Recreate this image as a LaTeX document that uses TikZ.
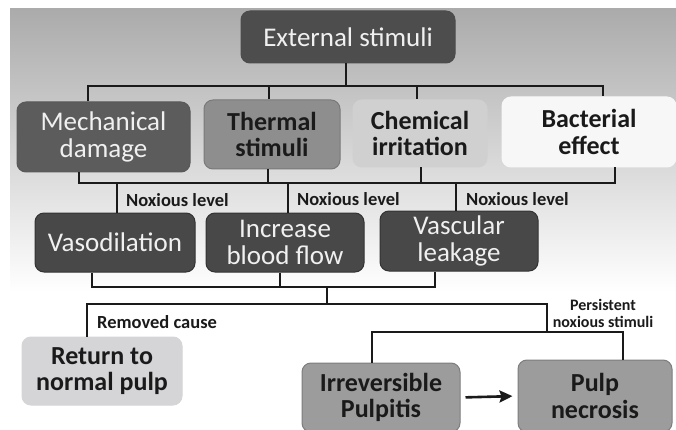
\documentclass[tikz,border=0pt]{standalone}
\usepackage{fontspec}
\setmainfont{Carlito}
\usetikzlibrary{arrows.meta}
\definecolor{bgtop}{HTML}{ABABAB}
\definecolor{bgmid}{HTML}{C4C4C4}
\definecolor{cExt}{HTML}{4D4D4D}
\definecolor{cMech}{HTML}{5C5C5C}
\definecolor{cTherm}{HTML}{8E8E8E}
\definecolor{cChem}{HTML}{D0D0D0}
\definecolor{cBact}{HTML}{F7F7F7}
\definecolor{cDark}{HTML}{484848}
\definecolor{cRet}{HTML}{D5D5D7}
\definecolor{cPul}{HTML}{9C9C9C}
\definecolor{cInk}{HTML}{1A1A1A}
\begin{document}
\begin{tikzpicture}[x=1pt,y=-1pt,
  box/.style={rounded corners=9pt, inner sep=0pt, align=center,
    font=\fontsize{27}{26.5}\selectfont, line width=1pt},
  darkbox/.style={box, text=white!94!black},
  lightbox/.style={box, text=cInk, font=\bfseries\fontsize{26}{26.5}\selectfont},
  lbl/.style={font=\bfseries\fontsize{18.5}{19}\selectfont, text=cInk, inner sep=0pt},
  wire/.style={line width=2pt, cInk}]
\useasboundingbox (0,0) rectangle (676,430);
\fill[white] (0,0) rectangle (676,430);
\shade[top color=bgtop, middle color=bgmid, bottom color=white] (10,9) rectangle (676,292);

% top
\node[darkbox, fill=cExt, draw=black!70, minimum width=214, minimum height=52] (ext) at (348,37) {External stimuli};
% first row
\node[darkbox, fill=cMech, draw=black!65, minimum width=173, minimum height=70] (mech) at (103.5,137) {Mechanical\\damage};
\node[lightbox, fill=cTherm, draw=cTherm!85!black, minimum width=136, minimum height=69] (therm) at (272,134.5) {Thermal\\stimuli};
\node[lightbox, fill=cChem, draw=cChem, minimum width=134, minimum height=67] (chem) at (420,133.5) {Chemical\\irritation};
\node[lightbox, fill=cBact, draw=cBact, minimum width=174, minimum height=70] (bact) at (589,132) {Bacterial\\effect};
% second row
\node[darkbox, fill=cDark, draw=black!80, minimum width=160, minimum height=59] (vaso) at (115,242.5) {Vasodilation};
\node[darkbox, fill=cDark, draw=black!80, minimum width=158, minimum height=59] (incr) at (285,242.5) {Increase\\blood flow};
\node[darkbox, fill=cDark, draw=black!80, minimum width=158, minimum height=60] (vasc) at (459,241) {Vascular\\leakage};
% outcomes
\node[lightbox, fill=cRet, draw=cRet, minimum width=160, minimum height=68] (ret) at (102,371) {Return to\\normal pulp};
\node[lightbox, fill=cPul, draw=cPul!80!black, minimum width=158, minimum height=69] (irr) at (381,397.5) {Irreversible\\Pulpitis};
\node[lightbox, fill=cPul, draw=cPul!80!black, minimum width=154, minimum height=72] (nec) at (595,396) {Pulp\\necrosis};

% labels
\node[lbl, anchor=west] (nl1) at (126,200) {Noxious level};
\node[lbl, anchor=west] (nl2) at (297,199) {Noxious level};
\node[lbl, anchor=west] (nl3) at (466,199) {Noxious level};
\node[lbl, anchor=west] (rc) at (97,322) {Removed cause};
\node[lbl, align=center, font=\bfseries\fontsize{16}{17}\selectfont] (pns) at (603,313) {Persistent\\noxious stimuli};

% bus 1
\coordinate (e0) at (346,86);
\coordinate (b1) at (88,86);
\coordinate (b2) at (269,86);
\coordinate (b3) at (417,86);
\coordinate (b4) at (603,86);
\draw[wire] (ext.south -| e0) -- (e0);
\draw[wire] (b1 |- mech.north) -- (b1) -- (b4) -- (b4 |- bact.north);
\draw[wire] (b2) -- (b2 |- therm.north);
\draw[wire] (b3) -- (b3 |- chem.north);
% bus 2
\coordinate (c1) at (79,183);
\coordinate (c2) at (268,183);
\coordinate (c3) at (421,183);
\coordinate (c4) at (615,183);
\draw[wire] (c1 |- mech.south) -- (c1) -- (c4) -- (c4 |- bact.south);
\draw[wire] (c2 |- therm.south) -- (c2);
\draw[wire] (c3 |- chem.south) -- (c3);
\coordinate (d1) at (117,183);
\coordinate (d2) at (288,183);
\coordinate (d3) at (456,183);
\draw[wire] (d1) -- (d1 |- vaso.north);
\draw[wire] (d2) -- (d2 |- incr.north);
\draw[wire] (d3) -- (d3 |- vasc.north);
% bus 3
\coordinate (f1) at (92,287);
\coordinate (f2) at (280,287);
\coordinate (f3) at (435,287);
\coordinate (f0) at (327,287);
\draw[wire] (f1 |- vaso.south) -- (f1) -- (f3) -- (f3 |- vasc.south);
\draw[wire] (f2 |- incr.south) -- (f2);
\coordinate (g0) at (327,304);
\coordinate (g1) at (87,304);
\coordinate (g2) at (547,304);
\coordinate (h0) at (547,332);
\coordinate (h1) at (372,332);
\coordinate (h2) at (623,332);
\draw[wire] (f0) -- (g0);
\draw[wire] (g1 |- ret.north) -- (g1) -- (g2) -- (h0);
\draw[wire] (h1 |- irr.north) -- (h1) -- (h2) -- (h2 |- nec.north);
\draw[wire, line width=2.6pt, -{Stealth[length=13pt,width=12pt,inset=2pt]}, shorten <=5pt, shorten >=5pt] (irr.east) -- (nec.west);
\end{tikzpicture}
\end{document}
